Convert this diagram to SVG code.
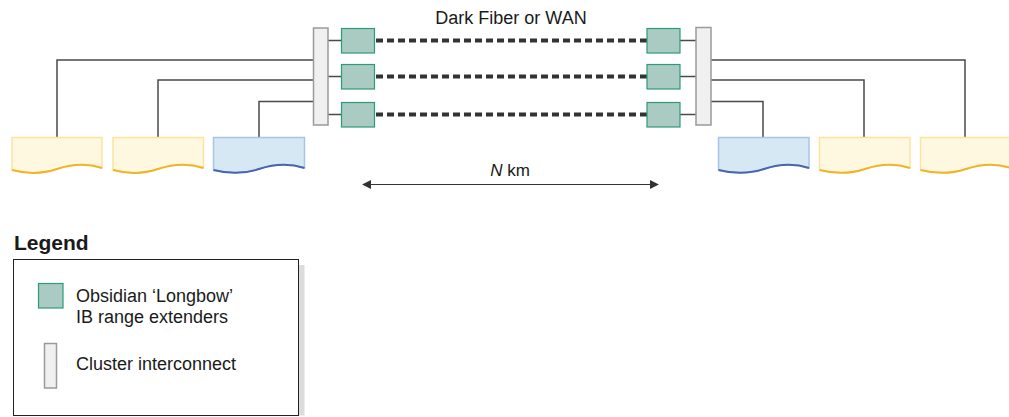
<svg xmlns="http://www.w3.org/2000/svg" width="1009" height="417" viewBox="0 0 1009 417">
<style>
text{font-family:"Liberation Sans",Arial,sans-serif;fill:#1a1a1a}
.sw{fill:#f0f0f0;stroke:#9a9a9a;stroke-width:1.5}
.ext{fill:#a9cbc2;stroke:#2e9a78;stroke-width:1.2}
.ln{fill:none;stroke:#4a4a4a;stroke-width:1.5}
.dash{fill:none;stroke:#333;stroke-width:4;stroke-dasharray:7 4}
.dy{fill:#fff8e0;stroke:#fbe3a0;stroke-width:1.5}
.dyb{fill:none;stroke:#f0b429;stroke-width:2}
.db{fill:#d5e8f4;stroke:#a9c4e8;stroke-width:1.5}
.dbb{fill:none;stroke:#4a64ae;stroke-width:2}
</style>
<defs>
<marker id="ah" viewBox="0 0 10 10" refX="9" refY="5" markerWidth="9" markerHeight="9" markerUnits="userSpaceOnUse" orient="auto-start-reverse">
<path d="M0,0 L10,5 L0,10 z" fill="#333"/>
</marker>
</defs>
<g id="connectors">
<path class="ln" d="M57,137 V60 H313"/>
<path class="ln" d="M158,137 V80 H313"/>
<path class="ln" d="M259,137 V101.5 H313"/>
<path class="ln" d="M965,137 V60 H711"/>
<path class="ln" d="M864,137 V80 H711"/>
<path class="ln" d="M763,137 V101.5 H711"/>
<path class="ln" d="M328,40.5 H341 M328,76.5 H341 M328,114.5 H341"/>
<path class="ln" d="M680,40.5 H696 M680,76.5 H696 M680,114.5 H696"/>
<path class="dash" d="M376,40.5 H647"/>
<path class="dash" d="M376,76.5 H647"/>
<path class="dash" d="M376,114.5 H647"/>
<path d="M363,184.5 H658" stroke="#333" stroke-width="1.2" marker-start="url(#ah)" marker-end="url(#ah)"/>
</g>
<g id="switch-left"><rect class="sw" x="313.5" y="28" width="14.5" height="97"/></g>
<g id="switch-right"><rect class="sw" x="696" y="27.5" width="15" height="97.5"/></g>
<g id="ext-l1"><rect class="ext" x="341.5" y="28.5" width="33" height="24.5"/></g>
<g id="ext-l2"><rect class="ext" x="341.5" y="64.5" width="33" height="24.5"/></g>
<g id="ext-l3"><rect class="ext" x="341.5" y="102.5" width="33" height="24.5"/></g>
<g id="ext-r1"><rect class="ext" x="647" y="28.5" width="33" height="24.5"/></g>
<g id="ext-r2"><rect class="ext" x="647" y="64.5" width="33" height="24.5"/></g>
<g id="ext-r3"><rect class="ext" x="647" y="102.5" width="33" height="24.5"/></g>
<g id="doc-l1">
<path class="dy" d="M12,137.5 H102 V168 C87,163 72,164 57,169 C42,174 27,174 12,170 Z"/>
<path class="dyb" d="M102,168 C87,163 72,164 57,169 C42,174 27,174 12,170"/>
</g>
<g id="doc-l2">
<path class="dy" d="M113,137.5 H203.5 V168 C188,163 173,164 158,169 C143,174 128,174 113,170 Z"/>
<path class="dyb" d="M203.5,168 C188,163 173,164 158,169 C143,174 128,174 113,170"/>
</g>
<g id="doc-l3">
<path class="db" d="M213.5,137.5 H304.5 V168 C289,163 274,164 259,169 C244,174 229,174 213.5,170 Z"/>
<path class="dbb" d="M304.5,168 C289,163 274,164 259,169 C244,174 229,174 213.5,170"/>
</g>
<g id="doc-r1">
<path class="db" d="M718.5,137.5 H809 V168 C794,163 779,164 764,169 C749,174 734,174 718.5,170 Z"/>
<path class="dbb" d="M809,168 C794,163 779,164 764,169 C749,174 734,174 718.5,170"/>
</g>
<g id="doc-r2">
<path class="dy" d="M819.5,137.5 H910 V168 C895,163 880,164 865,169 C850,174 835,174 819.5,170 Z"/>
<path class="dyb" d="M910,168 C895,163 880,164 865,169 C850,174 835,174 819.5,170"/>
</g>
<g id="doc-r3">
<path class="dy" d="M920.5,137.5 H1011 V168 C996,163 981,164 966,169 C951,174 936,174 920.5,170 Z"/>
<path class="dyb" d="M1011,168 C996,163 981,164 966,169 C951,174 936,174 920.5,170"/>
</g>
<g id="label-wan"><text x="511" y="24" font-size="18" text-anchor="middle">Dark Fiber or WAN</text></g>
<g id="label-km"><text x="510" y="176" font-size="17" text-anchor="middle"><tspan font-style="italic">N</tspan> km</text></g>
<g id="legend">
<text x="14" y="250" font-size="21" font-weight="bold">Legend</text>
<rect x="298.5" y="265" width="6" height="150.5" fill="#dcdcdc"/>
<rect x="13.5" y="259.5" width="285" height="156" fill="#fff" stroke="#222" stroke-width="1"/>
<rect class="ext" x="38.5" y="283.5" width="24.5" height="24.5"/>
<text x="76" y="302" font-size="18">Obsidian ‘Longbow’</text>
<text x="76" y="323" font-size="18">IB range extenders</text>
<rect class="sw" x="44.5" y="343.5" width="12" height="44.5"/>
<text x="76" y="370" font-size="18">Cluster interconnect</text>
</g>
</svg>
